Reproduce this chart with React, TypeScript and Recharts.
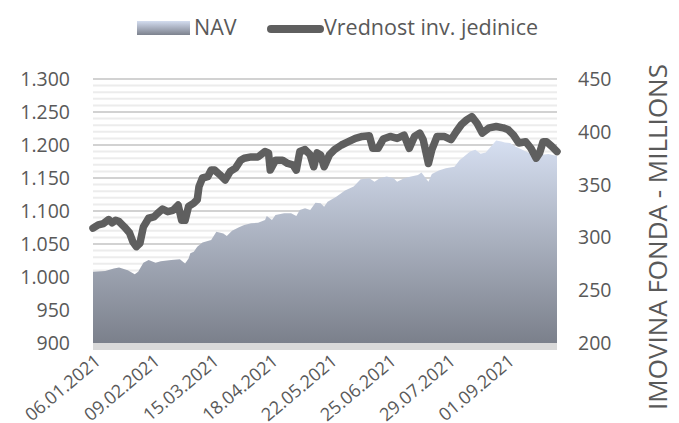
import { ComposedChart, Area, Line, XAxis, YAxis, CartesianGrid } from "recharts";

// day offsets from 06.01.2021
const LINE_DAYS = [0, 3, 6, 9, 11, 13, 15, 18, 21, 23, 25, 27, 29, 32, 35, 37, 40, 43, 46, 49, 51, 53, 55, 58, 60, 61, 63, 66, 68, 70, 73, 76, 79, 82, 85, 87, 91, 95, 99, 101, 102, 105, 109, 112, 115, 117, 119, 122, 125, 127, 129, 131, 133, 136, 139, 143, 147, 151, 155, 159, 161, 164, 167, 171, 175, 179, 182, 185, 188, 190, 193, 195, 198, 202, 206, 209, 212, 215, 218, 221, 224, 228, 232, 236, 239, 242, 245, 249, 252, 255, 257, 259, 261, 264, 267];
const UNIT_VALUES = [1074, 1079, 1081, 1087, 1082, 1086, 1084, 1076, 1067, 1053, 1046, 1051, 1076, 1089, 1091, 1096, 1103, 1099, 1101, 1109, 1086, 1086, 1107, 1112, 1117, 1137, 1150, 1152, 1162, 1162, 1155, 1147, 1160, 1165, 1177, 1180, 1182, 1182, 1190, 1188, 1162, 1177, 1177, 1172, 1170, 1162, 1190, 1193, 1185, 1167, 1188, 1185, 1167, 1185, 1193, 1200, 1205, 1210, 1213, 1214, 1195, 1195, 1209, 1213, 1210, 1215, 1195, 1213, 1218, 1208, 1172, 1193, 1213, 1213, 1208, 1220, 1231, 1238, 1243, 1233, 1218, 1226, 1228, 1226, 1223, 1215, 1203, 1205, 1195, 1180, 1188, 1205, 1205, 1198, 1190];

const NAV_DAYS = [0, 7, 12, 15, 20, 24, 26, 29, 32, 36, 39, 45, 50, 53, 55, 56, 58, 60, 63, 68, 71, 75, 77, 80, 84, 87, 91, 95, 99, 100, 103, 105, 110, 114, 117, 119, 122, 125, 128, 131, 133, 135, 140, 145, 150, 154, 159, 162, 165, 169, 173, 175, 179, 183, 187, 189, 193, 195, 199, 203, 208, 211, 213, 217, 220, 223, 226, 229, 232, 235, 237, 240, 243, 247, 251, 257, 262, 267];
const NAV_VALUES = [267.4, 268.3, 270.6, 271.6, 269, 265.2, 267.4, 275.9, 278.5, 275.9, 277.5, 278.5, 279.2, 275.4, 280.1, 284.9, 286.4, 291.1, 295.1, 297.5, 305.4, 303.8, 301.3, 306.3, 309.5, 311.7, 313.3, 313.9, 316.5, 320.3, 316.5, 321.2, 322.8, 322.8, 320.3, 326, 327.6, 326, 332.9, 332.3, 329.1, 333.8, 338.6, 344.3, 348.1, 355.1, 356, 352.8, 356, 357.6, 356, 352.8, 356, 357.6, 359.2, 361.4, 352.8, 360.1, 363.3, 365.5, 367, 373.4, 376, 381.3, 382.9, 379.1, 380.3, 386, 391.7, 390.8, 389.8, 389.3, 386, 382.9, 380, 378, 379, 377];

const X_TICKS = [0, 34, 68, 102, 136, 170, 204, 238];
const X_TICK_LABELS = ["06.01.2021", "09.02.2021", "15.03.2021", "18.04.2021", "22.05.2021", "25.06.2021", "29.07.2021", "01.09.2021"];
const LEFT_TICKS = [900, 950, 1000, 1050, 1100, 1150, 1200, 1250, 1300];
const LEFT_MINOR = [910, 920, 930, 940, 960, 970, 980, 990, 1010, 1020, 1030, 1040, 1060, 1070, 1080, 1090, 1110, 1120, 1130, 1140, 1160, 1170, 1180, 1190, 1210, 1220, 1230, 1240, 1260, 1270, 1280, 1290];
const RIGHT_TICKS = [200, 250, 300, 350, 400, 450];

const NAV_NAME = "NAV";
const UNIT_NAME = "Vrednost inv. jedinice";
const RIGHT_TITLE = "IMOVINA FONDA - MILLIONS";

const FONT = "'Open Sans', sans-serif";
const TEXT = "#595959";

// the grid thins out values that sit too close, so feed the minor lines in 4 groups
const MINOR_GROUPS = [10, 20, 30, 40].map((r) => LEFT_MINOR.filter((v) => v % 50 === r));

type Row = { day: number; unit?: number; nav?: number };

const rows: Row[] = (() => {
  const map = new Map<number, Row>();
  LINE_DAYS.forEach((d, i) => {
    map.set(d, { ...(map.get(d) || { day: d }), unit: UNIT_VALUES[i] });
  });
  NAV_DAYS.forEach((d, i) => {
    map.set(d, { ...(map.get(d) || { day: d }), nav: NAV_VALUES[i] });
  });
  return Array.from(map.values()).sort((a, b) => a.day - b.day);
})();

function fmtThousands(v: number) {
  if (v < 1000) return String(v);
  return `${Math.floor(v / 1000)}.${String(v % 1000).padStart(3, "0")}`;
}

function DateTick(props: any) {
  const { x, y, payload } = props;
  const label = X_TICK_LABELS[X_TICKS.indexOf(payload.value)];
  return (
    <g transform={`translate(${x + 9},${y + 20})`}>
      <text textAnchor="end" transform="rotate(-40)" fontSize={18} fill={TEXT} fontFamily={FONT}>
        {label}
      </text>
    </g>
  );
}

export default function App() {
  return (
    <div style={{ position: "absolute", left: 0, top: 0, width: 679, height: 423, fontFamily: FONT }}>
      <svg width={0} height={0} style={{ position: "absolute" }}>
        <defs>
          <linearGradient id="navFill" x1="0" y1="0" x2="0" y2="1">
            <stop offset="0%" stopColor="#d6dff1" />
            <stop offset="100%" stopColor="#7b808b" />
          </linearGradient>
        </defs>
      </svg>
      {/* legend */}
      <div style={{ position: "absolute", left: 137, top: 21, width: 53, height: 14, background: "linear-gradient(#d3dcef, #7d828e)" }} />
      <div style={{ position: "absolute", left: 194, top: 13, fontSize: 21.5, lineHeight: "28px", color: TEXT }}>{NAV_NAME}</div>
      <div style={{ position: "absolute", left: 267, top: 24.5, width: 57, height: 8, borderRadius: 4, background: "#5f5f5f" }} />
      <div style={{ position: "absolute", left: 324, top: 13, fontSize: 21.5, lineHeight: "28px", color: TEXT }}>{UNIT_NAME}</div>

      <ComposedChart width={679} height={423} data={rows} margin={{ top: 79, right: 0, bottom: 0, left: 0 }}>
        {MINOR_GROUPS.map((g, i) => (
          <CartesianGrid key={i} vertical={false} horizontalValues={g} stroke="#ececec" strokeWidth={2} />
        ))}
        <CartesianGrid vertical={false} stroke="#d2d2d2" strokeWidth={2} />
        <XAxis
          dataKey="day"
          type="number"
          domain={[0, 267]}
          ticks={X_TICKS}
          interval={0}
          height={80}
          tickLine={false}
          tickSize={0}
          tickMargin={0}
          axisLine={{ stroke: "#d9d9d9", strokeWidth: 7, transform: "translate(0,3.5)" }}
          tick={<DateTick />}
        />
        <YAxis
          orientation="left"
          domain={[900, 1300]}
          ticks={LEFT_TICKS}
          width={93}
          axisLine={false}
          tickLine={false}
          tickSize={0}
          tickMargin={23}
          tickFormatter={fmtThousands}
          tick={{ fill: TEXT, fontSize: 19.5, fontFamily: FONT }}
        />
        <YAxis
          yAxisId="right"
          orientation="right"
          domain={[200, 450]}
          ticks={RIGHT_TICKS}
          width={122}
          axisLine={false}
          tickLine={false}
          tickSize={0}
          tickMargin={21}
          tick={{ fill: TEXT, fontSize: 19.5, fontFamily: FONT, textAnchor: "start" }}
          label={(p: any) => {
            const vb = p.viewBox || { x: 557, y: 79, width: 122, height: 264 };
            const cx = vb.x + vb.width - 22;
            const cy = vb.y + vb.height / 2 + 26;
            return (
              <text x={cx} y={cy} transform={`rotate(-90, ${cx}, ${cy})`} textAnchor="middle" dominantBaseline="central" fontSize={26} fill={TEXT} fontFamily={FONT}>
                {RIGHT_TITLE}
              </text>
            );
          }}
        />
        <Area
          yAxisId="right"
          dataKey="nav"
          name={NAV_NAME}
          type="linear"
          stroke="none"
          fill="url(#navFill)"
          fillOpacity={1}
          baseValue={200}
          connectNulls
          isAnimationActive={false}
        />
        <Line
          dataKey="unit"
          name={UNIT_NAME}
          type="linear"
          stroke="#5f5f5f"
          strokeWidth={7.5}
          strokeLinejoin="round"
          strokeLinecap="round"
          dot={false}
          activeDot={false}
          connectNulls
          isAnimationActive={false}
        />
      </ComposedChart>
    </div>
  );
}
